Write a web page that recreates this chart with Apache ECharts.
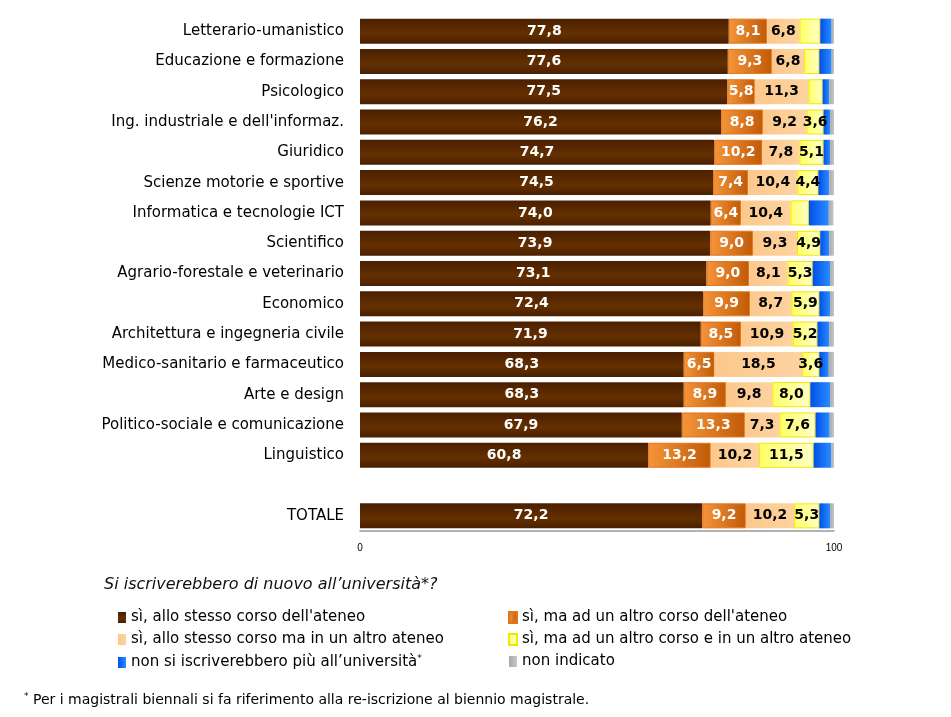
<!DOCTYPE html>
<html>
<head>
<meta charset="utf-8">
<script src="https://cdn.jsdelivr.net/npm/echarts@6/dist/echarts.min.js"></script>
<style>
  html, body { margin: 0; padding: 0; background: #fff; }
  #chart { width: 951px; height: 717px; }
</style>
</head>
<body>
<div id="chart"></div>
<script>
// Categories (blank entry = gap before TOTALE)
const categories = [
  'Letterario-umanistico', 'Educazione e formazione', 'Psicologico',
  "Ing. industriale e dell'informaz.", 'Giuridico', 'Scienze motorie e sportive',
  'Informatica e tecnologie ICT', 'Scientifico', 'Agrario-forestale e veterinario',
  'Economico', 'Architettura e ingegneria civile', 'Medico-sanitario e farmaceutico',
  'Arte e design', 'Politico-sociale e comunicazione', 'Linguistico', '', 'TOTALE'
];

const stessoCorso   = [77.8, 77.6, 77.5, 76.2, 74.7, 74.5, 74.0, 73.9, 73.1, 72.4, 71.9, 68.3, 68.3, 67.9, 60.8, null, 72.2];
const altroCorso    = [8.1, 9.3, 5.8, 8.8, 10.2, 7.4, 6.4, 9.0, 9.0, 9.9, 8.5, 6.5, 8.9, 13.3, 13.2, null, 9.2];
const altroAteneo   = [6.8, 6.8, 11.3, 9.2, 7.8, 10.4, 10.4, 9.3, 8.1, 8.7, 10.9, 18.5, 9.8, 7.3, 10.2, null, 10.2];
const altroEntrambi = [4.4, 3.2, 3.0, 3.6, 5.1, 4.4, 3.9, 4.9, 5.3, 5.9, 5.2, 3.6, 8.0, 7.6, 11.5, null, 5.3];
const nonIscritti   = [2.4, 2.6, 1.4, 1.4, 1.4, 2.3, 4.2, 1.9, 3.7, 2.3, 2.5, 2.0, 4.2, 3.0, 3.7, null, 2.3];
const nonIndicato   = [0.5, 0.5, 1.0, 0.8, 0.8, 1.0, 1.0, 1.0, 0.8, 0.8, 1.0, 1.1, 0.8, 0.9, 0.6, null, 0.8];
// yellow segments printed without a value label in the original
const yellowUnlabeled = [0, 1, 2, 6];

const seriesNames = [
  "sì, allo stesso corso dell'ateneo",
  "sì, ma ad un altro corso dell'ateneo",
  "sì, allo stesso corso ma in un altro ateneo",
  "sì, ma ad un altro corso e in un altro ateneo",
  "non si iscriverebbero più all\u2019università",
  'non indicato'
];

const chart = echarts.init(document.getElementById('chart'));

const grad = (a, b) => new echarts.graphic.LinearGradient(0, 0, 1, 0, [
  { offset: 0, color: a }, { offset: 1, color: b }
]);
const vgrad = (a, b) => new echarts.graphic.LinearGradient(0, 0, 0, 1, [
  { offset: 0, color: a }, { offset: 0.6, color: b }, { offset: 1, color: a }
]);

const fmt = p => (p.value == null ? '' : p.value.toFixed(1).replace('.', ','));

const labelFont = { fontFamily: 'DejaVu Sans', fontWeight: 'bold', fontSize: 14 };

function makeSeries(name, data, style, label) {
  return {
    name: name,
    type: 'bar',
    stack: 'tot',
    barWidth: 25,
    data: data,
    itemStyle: style,
    label: label,
    emphasis: { disabled: true }
  };
}

const yellowData = altroEntrambi.map((v, i) =>
  yellowUnlabeled.includes(i) ? { value: v, label: { show: false } } : v);

const series = [
  makeSeries(seriesNames[0], stessoCorso,
    { color: vgrad('#4a1f00', '#643000') },
    Object.assign({ show: true, color: '#fff', formatter: fmt }, labelFont)),
  makeSeries(seriesNames[1], altroCorso,
    { color: grad('#f5953a', '#c05a08'), borderColor: '#e47418', borderWidth: 1 },
    Object.assign({ show: true, color: '#fff', formatter: fmt }, labelFont)),
  makeSeries(seriesNames[2], altroAteneo,
    { color: grad('#fcc88c', '#fdd3a0') },
    Object.assign({ show: true, color: '#000', formatter: fmt }, labelFont)),
  makeSeries(seriesNames[3], yellowData,
    { color: grad('#ffff66', '#ffffc8'), borderColor: '#f0e800', borderWidth: 1 },
    Object.assign({ show: true, color: '#000', formatter: fmt }, labelFont)),
  makeSeries(seriesNames[4], nonIscritti,
    { color: grad('#0050e8', '#2a8cff') },
    { show: false }),
  makeSeries(seriesNames[5], nonIndicato,
    { color: grad('#a8a8a8', '#c8c8c8') },
    { show: false })
];

const legendText = {
  fontFamily: 'DejaVu Sans',
  fontSize: 15,
  color: '#000',
  rich: {
    t: { fontFamily: 'DejaVu Sans', fontSize: 15, color: '#000' },
    s: { fontFamily: 'DejaVu Sans', fontSize: 9, color: '#000', verticalAlign: 'top', padding: [0, 0, 8, 0] }
  }
};
const legendFmt = name => name === seriesNames[4] ? '{t|' + name + '}{s|*}' : name;

const legendBase = {
  orient: 'vertical',
  top: 605,
  icon: 'rect', itemWidth: 8, itemHeight: 11, itemGap: 7,
  selectedMode: false,
  formatter: legendFmt,
  textStyle: legendText
};

const option = {
  animation: false,
  backgroundColor: '#fff',
  grid: { left: 360, right: 117, top: 16, bottom: 186 },
  xAxis: {
    type: 'value',
    min: 0,
    max: 100,
    interval: 100,
    axisLine: { show: true, lineStyle: { color: '#999', width: 1.5 } },
    axisTick: { show: false },
    splitLine: { show: false },
    axisLabel: { color: '#000', fontSize: 10, fontFamily: 'Liberation Sans', margin: 12 }
  },
  yAxis: {
    type: 'category',
    inverse: true,
    data: categories,
    axisLine: { show: false },
    axisTick: { show: false },
    axisLabel: { color: '#000', fontSize: 15, fontFamily: 'DejaVu Sans', margin: 16 }
  },
  legend: [
    Object.assign({ data: [seriesNames[0], seriesNames[2], seriesNames[4]], left: 113 }, legendBase),
    Object.assign({ data: [seriesNames[1], seriesNames[3], seriesNames[5]], left: 503 }, legendBase)
  ],
  graphic: [
    {
      type: 'text', left: 104, top: 577,
      style: {
        text: 'Si iscriverebbero di nuovo all\u2019università*?',
        font: 'italic 16px "DejaVu Sans"', fill: '#111'
      }
    },
    {
      type: 'text', left: 24, top: 692,
      style: {
        text: '{s|*}{t| Per i magistrali biennali si fa riferimento alla re-iscrizione al biennio magistrale.}',
        rich: {
          s: { fontSize: 9, fontFamily: 'DejaVu Sans', fill: '#000', verticalAlign: 'top', padding: [0, 0, 8, 0] },
          t: { fontSize: 14, fontFamily: 'DejaVu Sans', fill: '#000' }
        }
      }
    }
  ],
  series: series
};

chart.setOption(option);
</script>
</body>
</html>
